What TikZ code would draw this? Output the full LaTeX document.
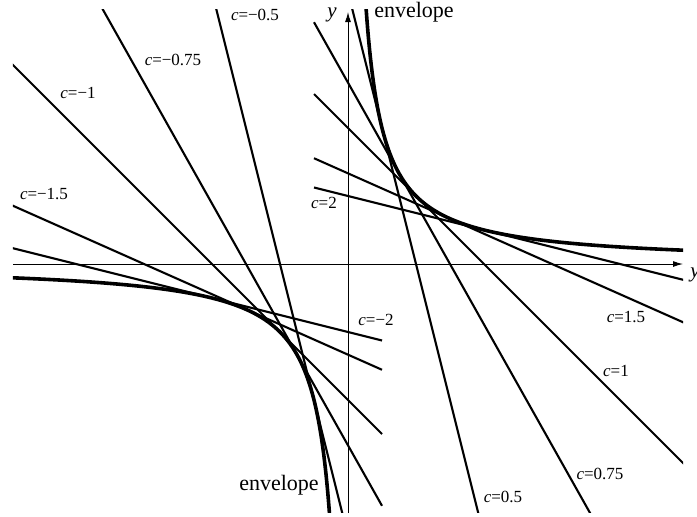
\documentclass[tikz,border=0pt]{standalone}
\usepackage{fontspec}
\setmainfont{Liberation Serif}
\usetikzlibrary{arrows.meta}
\begin{document}
\begin{tikzpicture}[x=0.5pt,y=-0.5pt,
  tline/.style={line width=1.05pt},
  env/.style={line width=1.8pt},
  axis/.style={line width=0.5pt,-{Latex[length=5pt,width=3pt]}},
  lab/.style={inner sep=0pt,font=\fontsize{8.5}{10}\selectfont},
  envlab/.style={inner sep=0pt,font=\fontsize{11}{13}\selectfont}]
\useasboundingbox (0,0) rectangle (697,516);
% axes
\coordinate (xs) at (13,264);
\coordinate (xe) at (683,264);
\coordinate (ys) at (348,513);
\coordinate (ye) at (348,12);
\draw[axis] (xs) -- (xe);
\draw[axis] (ys) -- (ye);
% curves
\begin{scope}[shift={(348,264)},x=34pt,y=34pt]
  \clip (-4.93,-3.66) rectangle (4.93,3.74);
  \foreach \c in {0.5,0.75,1,1.5,2}
    \draw[tline] plot[domain=-0.5:6,samples=2] (\x,{-\x/(\c*\c)+2/\c});
  \foreach \c in {-0.5,-0.75,-1,-1.5,-2}
    \draw[tline] plot[domain=-6:0.5,samples=2] (\x,{-\x/(\c*\c)+2/\c});
  \draw[env] plot[domain=-1.4:1.7,samples=150,smooth] ({exp(\x)},{exp(-\x)});
  \draw[env] plot[domain=-1.4:1.7,samples=150,smooth] ({-exp(\x)},{-exp(-\x)});
\end{scope}
% labels
\node[envlab] (envT) at (414,12) {envelope};
\node[envlab] (envB) at (279,485) {envelope};
\node[lab] (lm05) at (255,15) {\textit{c}=−0.5};
\node[lab] (lm075) at (173,60) {\textit{c}=−0.75};
\node[lab] (lm1) at (78,93) {\textit{c}=−1};
\node[lab] (lm15) at (44,194) {\textit{c}=−1.5};
\node[lab] (lp2) at (324,203) {\textit{c}=2};
\node[lab] (lm2) at (376,320) {\textit{c}=−2};
\node[lab] (lp15) at (626,317) {\textit{c}=1.5};
\node[lab] (lp1) at (616,371) {\textit{c}=1};
\node[lab] (lp075) at (600,474) {\textit{c}=0.75};
\node[lab] (lp05) at (503,497) {\textit{c}=0.5};
\node[lab,font=\fontsize{10.5}{12}\selectfont\itshape] (ylab) at (332,15) {y};
\node[lab,font=\fontsize{10.5}{12}\selectfont\itshape,anchor=west] (xlab) at (690,275) {y};
\end{tikzpicture}
\end{document}
